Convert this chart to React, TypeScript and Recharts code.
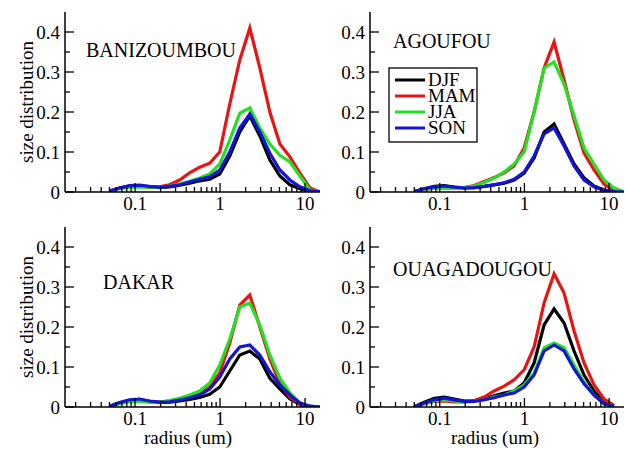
import React from 'react'
import { LineChart, Line, XAxis, YAxis } from 'recharts'

// AERONET size bins (um)
const radius = [0.05, 0.0656, 0.0861, 0.1129, 0.1482, 0.1944, 0.2551, 0.3347, 0.4392, 0.5762, 0.7561, 0.992, 1.3016, 1.7078, 2.2407, 2.94, 3.8575, 5.0613, 6.6407, 8.7131, 11.4323, 15]

const seasons = ['DJF', 'MAM', 'JJA', 'SON']
const seasonColors = ['#000000', '#e81414', '#22e022', '#1414d8']

const banDJF = [0.002, 0.01, 0.014, 0.015, 0.012, 0.011, 0.013, 0.017, 0.022, 0.028, 0.032, 0.045, 0.09, 0.15, 0.19, 0.14, 0.08, 0.04, 0.018, 0.008, 0.002, 0]
const banMAM = [0.003, 0.01, 0.015, 0.015, 0.012, 0.013, 0.018, 0.03, 0.048, 0.062, 0.072, 0.1, 0.22, 0.33, 0.41, 0.31, 0.2, 0.12, 0.088, 0.047, 0.01, 0]
const banJJA = [0.002, 0.008, 0.012, 0.013, 0.012, 0.012, 0.015, 0.02, 0.027, 0.035, 0.045, 0.07, 0.13, 0.197, 0.21, 0.16, 0.12, 0.092, 0.075, 0.04, 0.005, 0.001]
const banSON = [0.002, 0.01, 0.016, 0.017, 0.014, 0.012, 0.014, 0.018, 0.025, 0.032, 0.038, 0.055, 0.1, 0.16, 0.195, 0.15, 0.097, 0.055, 0.03, 0.013, 0.003, 0.001]

const agoDJF = [0.001, 0.008, 0.014, 0.016, 0.012, 0.01, 0.011, 0.014, 0.018, 0.022, 0.03, 0.047, 0.085, 0.15, 0.17, 0.12, 0.07, 0.035, 0.015, 0.005, 0.001, 0]
const agoMAM = [0.001, 0.006, 0.01, 0.011, 0.01, 0.011, 0.016, 0.026, 0.036, 0.048, 0.065, 0.11, 0.2, 0.31, 0.375, 0.28, 0.18, 0.097, 0.055, 0.02, 0.003, 0]
const agoJJA = [0.001, 0.006, 0.01, 0.011, 0.01, 0.011, 0.015, 0.024, 0.035, 0.05, 0.07, 0.1, 0.2, 0.31, 0.325, 0.27, 0.19, 0.11, 0.07, 0.03, 0.01, 0.001]
const agoSON = [0.001, 0.008, 0.013, 0.015, 0.012, 0.01, 0.011, 0.014, 0.018, 0.023, 0.032, 0.05, 0.09, 0.145, 0.16, 0.115, 0.065, 0.03, 0.013, 0.004, 0.001, 0]

const dakDJF = [0.002, 0.01, 0.016, 0.018, 0.014, 0.011, 0.012, 0.015, 0.019, 0.024, 0.032, 0.05, 0.09, 0.13, 0.14, 0.12, 0.072, 0.045, 0.02, 0.006, 0.001, 0]
const dakMAM = [0.002, 0.01, 0.015, 0.016, 0.013, 0.012, 0.015, 0.02, 0.028, 0.035, 0.05, 0.085, 0.16, 0.255, 0.28, 0.2, 0.12, 0.058, 0.025, 0.007, 0.001, 0]
const dakJJA = [0.002, 0.008, 0.013, 0.014, 0.012, 0.012, 0.016, 0.022, 0.03, 0.04, 0.06, 0.105, 0.17, 0.25, 0.26, 0.205, 0.13, 0.072, 0.035, 0.01, 0.002, 0]
const dakSON = [0.002, 0.011, 0.018, 0.02, 0.015, 0.012, 0.013, 0.017, 0.023, 0.03, 0.045, 0.075, 0.12, 0.15, 0.155, 0.13, 0.088, 0.055, 0.03, 0.01, 0.002, 0]

const ouaDJF = [0.001, 0.012, 0.022, 0.025, 0.02, 0.015, 0.015, 0.02, 0.028, 0.035, 0.04, 0.06, 0.11, 0.205, 0.245, 0.21, 0.14, 0.08, 0.04, 0.012, 0.003, null]
const ouaMAM = [0.001, 0.008, 0.014, 0.015, 0.013, 0.013, 0.016, 0.025, 0.04, 0.052, 0.068, 0.093, 0.15, 0.26, 0.333, 0.285, 0.19, 0.11, 0.055, 0.02, 0.004, null]
const ouaJJA = [0.001, 0.008, 0.015, 0.018, 0.015, 0.013, 0.014, 0.018, 0.025, 0.03, 0.04, 0.055, 0.085, 0.148, 0.16, 0.148, 0.105, 0.062, 0.03, 0.008, 0.002, null]
const ouaSON = [0.001, 0.01, 0.018, 0.022, 0.018, 0.014, 0.014, 0.018, 0.023, 0.03, 0.035, 0.05, 0.08, 0.14, 0.155, 0.14, 0.095, 0.058, 0.03, 0.008, 0.002, null]

const xTicks = [0.02, 0.03, 0.04, 0.05, 0.06, 0.07, 0.08, 0.09, 0.1, 0.2, 0.3, 0.4, 0.5, 0.6, 0.7, 0.8, 0.9, 1, 2, 3, 4, 5, 6, 7, 8, 9, 10]
const yTicks = [0, 0.05, 0.1, 0.15, 0.2, 0.25, 0.3, 0.35, 0.4]

const FONT = 'Liberation Serif'
const txt = { fontFamily: FONT, fontSize: 19 }
const titleTxt = { fontFamily: FONT, fontSize: 20 }
const legendTxt = { fontFamily: FONT, fontSize: 19 }

const buildRows = (series: (number | null)[][]) =>
  radius.map((r, i) => {
    const row: any = { r }
    seasons.forEach((s, k) => { row[s] = series[k][i] })
    return row
  })

const isMajorX = (v: number) => Math.abs(Math.log10(v) - Math.round(Math.log10(v))) < 1e-6
const isMajorY = (v: number) => Math.abs(v * 10 - Math.round(v * 10)) < 1e-6

const BottomTick = (props: any) => {
  const { x, y, payload } = props
  const v = payload.value
  const major = isMajorX(v)
  return (
    <g>
      <line x1={x} y1={y} x2={x} y2={y - (major ? 9 : 5)} stroke="#000" strokeWidth={1.3} />
      {major && (
        <text x={x} y={y + 18} textAnchor="middle" style={txt} fill="#000">
          {String(v)}
        </text>
      )}
    </g>
  )
}

const TopTick = (props: any) => {
  const { x, y, payload } = props
  const major = isMajorX(payload.value)
  return <line x1={x} y1={y} x2={x} y2={y + (major ? 9 : 5)} stroke="#000" strokeWidth={1.3} />
}

const LeftTick = (props: any) => {
  const { x, y, payload } = props
  const v = payload.value
  const major = isMajorY(v)
  return (
    <g>
      <line x1={x} y1={y} x2={x + (major ? 9 : 5)} y2={y} stroke="#000" strokeWidth={1.3} />
      {major && (
        <text x={x - 5} y={y + 6.5} textAnchor="end" style={txt} fill="#000">
          {v === 0 ? '0' : v.toFixed(1)}
        </text>
      )}
    </g>
  )
}

const RightTick = (props: any) => {
  const { x, y, payload } = props
  const major = isMajorY(payload.value)
  return <line x1={x} y1={y} x2={x - (major ? 9 : 5)} y2={y} stroke="#000" strokeWidth={1.3} />
}

const axisLine = { stroke: '#000', strokeWidth: 1.5 }

function Panel({ left, top, width, marginRight, data }: { left: number; top: number; width: number; marginRight: number; data: any[] }) {
  return (
    <div style={{ position: 'absolute', left, top }}>
      <LineChart width={width} height={225} data={data} margin={{ top: 12, right: marginRight, bottom: 0, left: 5 }}>
        <XAxis
          dataKey="r"
          type="number"
          scale="log"
          domain={[0.015, 15]}
          allowDataOverflow
          ticks={xTicks}
          interval={0}
          height={33}
          tickSize={0}
          tickMargin={0}
          tickLine={false}
          axisLine={axisLine}
          tick={<BottomTick />}
        />
        <XAxis
          xAxisId="top"
          orientation="top"
          dataKey="r"
          type="number"
          scale="log"
          domain={[0.015, 15]}
          allowDataOverflow
          ticks={xTicks}
          interval={0}
          height={0}
          tickSize={0}
          tickMargin={0}
          tickLine={false}
          axisLine={axisLine}
          tick={<TopTick />}
        />
        <YAxis
          type="number"
          domain={[0, 0.45]}
          allowDataOverflow
          ticks={yTicks}
          interval={0}
          width={60}
          tickSize={0}
          tickMargin={0}
          tickLine={false}
          axisLine={axisLine}
          tick={<LeftTick />}
        />
        <YAxis
          yAxisId="right"
          orientation="right"
          type="number"
          domain={[0, 0.45]}
          allowDataOverflow
          ticks={yTicks}
          interval={0}
          width={0}
          tickSize={0}
          tickMargin={0}
          tickLine={false}
          axisLine={axisLine}
          tick={<RightTick />}
        />
        {seasons.map((s, k) => (
          <Line
            key={s}
            dataKey={s}
            name={s}
            type="linear"
            stroke={seasonColors[k]}
            strokeWidth={3.2}
            dot={false}
            isAnimationActive={false}
          />
        ))}
      </LineChart>
    </div>
  )
}

const banRows = buildRows([banDJF, banMAM, banJJA, banSON])
const agoRows = buildRows([agoDJF, agoMAM, agoJJA, agoSON])
const dakRows = buildRows([dakDJF, dakMAM, dakJJA, dakSON])
const ouaRows = buildRows([ouaDJF, ouaMAM, ouaJJA, ouaSON])

export default function App() {
  return (
    <div style={{ position: 'absolute', left: 0, top: 0, width: 625, height: 449, overflow: 'hidden', background: '#fff' }}>
      <Panel left={0} top={0} width={330} marginRight={10} data={banRows} />
      <Panel left={305} top={0} width={320} marginRight={1} data={agoRows} />
      <Panel left={0} top={215} width={330} marginRight={10} data={dakRows} />
      <Panel left={305} top={215} width={320} marginRight={1} data={ouaRows} />
      <svg width={625} height={449} style={{ position: 'absolute', left: 0, top: 0, pointerEvents: 'none' }}>
        <text x={86} y={57} style={titleTxt} fill="#000">BANIZOUMBOU</text>
        <text x={393} y={48} style={titleTxt} fill="#000">AGOUFOU</text>
        <text x={103} y={289} style={titleTxt} fill="#000">DAKAR</text>
        <text x={393} y={276} style={titleTxt} fill="#000">OUAGADOUGOU</text>
        <text x={188} y={444} textAnchor="middle" style={txt} fill="#000">radius (um)</text>
        <text x={495} y={444} textAnchor="middle" style={txt} fill="#000">radius (um)</text>
        <text transform="translate(33,102) rotate(-90)" textAnchor="middle" style={txt} fill="#000">size distribution</text>
        <text transform="translate(33,317) rotate(-90)" textAnchor="middle" style={txt} fill="#000">size distribution</text>
        <rect x={389} y={68} width={88} height={74} fill="#fff" stroke="#000" strokeWidth={1.3} />
        {seasons.map((s, k) => (
          <g key={s}>
            <line x1={395} x2={425} y1={80 + k * 16} y2={80 + k * 16} stroke={seasonColors[k]} strokeWidth={3} />
            <text x={428} y={86 + k * 16} style={legendTxt} fill="#000">{s}</text>
          </g>
        ))}
      </svg>
    </div>
  )
}
